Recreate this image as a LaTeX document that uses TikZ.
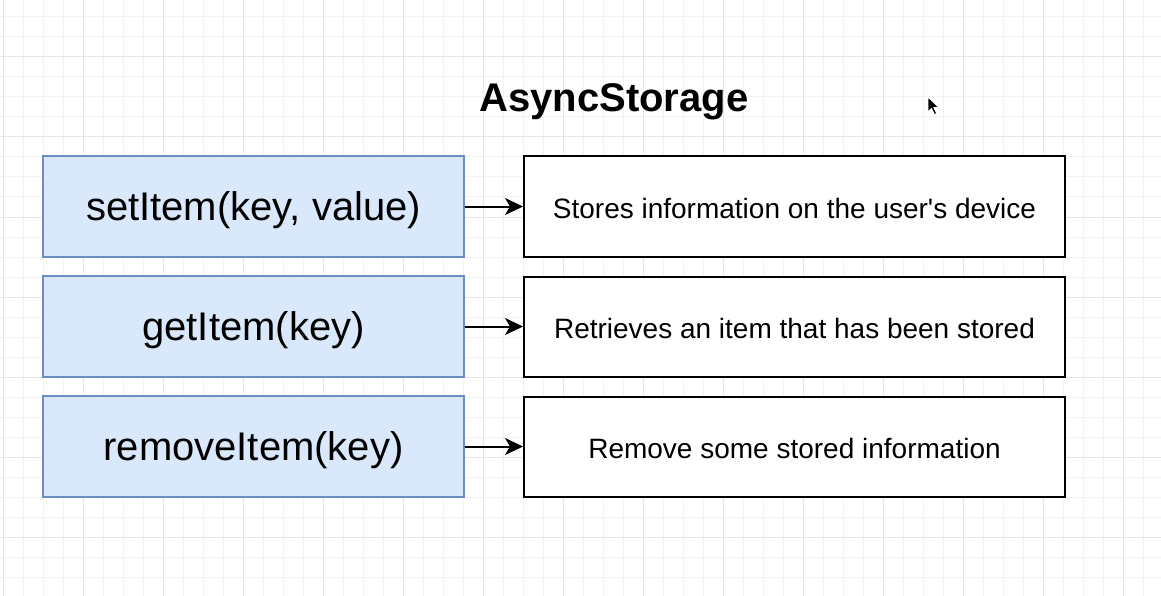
\documentclass[tikz,border=0pt]{standalone}
\usepackage{fontspec}
\setmainfont{Liberation Sans}[Ligatures=TeXOff]
\usetikzlibrary{arrows.meta}
\definecolor{gridminor}{HTML}{F2F2F2}
\definecolor{gridmajor}{HTML}{E6E6E6}
\definecolor{blfill}{HTML}{DAE8FC}
\definecolor{bldraw}{HTML}{6C8EBF}
\tikzset{
  fnbox/.style={draw=bldraw, fill=blfill, line width=1.5pt, minimum width=421pt, minimum height=101pt, inner sep=0pt,
    font=\fontsize{40}{48}\selectfont, text height=36pt, text depth=8pt},
  descbox/.style={draw=black, fill=white, line width=2pt, minimum width=541pt, minimum height=100pt, inner sep=0pt,
    font=\fontsize{28}{34}\selectfont, text height=30pt, text depth=5.6pt},
  conn/.style={line width=2pt, -{Stealth[length=18pt,width=17pt,inset=5pt]}},
  titletext/.style={font=\fontsize{40}{48}\selectfont\bfseries, anchor=base, inner sep=0pt}
}
\begin{document}
\begin{tikzpicture}[x=1pt,y=-1pt]
\useasboundingbox (0,0) rectangle (1161,596);
\fill[white] (0,0) rectangle (1161,596);
% grid
\foreach \gx in {3,23,...,1163} {\draw[gridminor, line width=1pt] (\gx,0) -- (\gx,596);}
\foreach \gy in {17,37,...,597} {\draw[gridminor, line width=1pt] (0,\gy) -- (1161,\gy);}
\foreach \gx in {3,83,...,1163} {\draw[gridmajor, line width=1pt] (\gx,0) -- (\gx,596);}
\foreach \gy in {57,137,...,597} {\draw[gridmajor, line width=1pt] (0,\gy) -- (1161,\gy);}
% title
\node[titletext] (title) at (614,112) {AsyncStorage};
% boxes
\node[fnbox] (set) at (253.5,206.5) {setItem(key, value)};
\node[fnbox] (get) at (253.5,326.5) {getItem(key)};
\node[fnbox] (rem) at (253.5,446.5) {removeItem(key)};
\node[descbox] (setd) at (794.5,206.5) {Stores information on the user's device};
\node[descbox] (getd) at (794.5,326.5) {Retrieves an item that has been stored};
\node[descbox] (remd) at (794.5,446.5) {Remove some stored information};
% connectors
\draw[conn] (set.east) -- (setd.west);
\draw[conn] (get.east) -- (getd.west);
\draw[conn] (rem.east) -- (remd.west);
% mouse pointer
\coordinate (cur) at (928,97);
\filldraw[fill=black, draw=white, line width=0.8pt, line join=round]
  (cur) -- ++(0,15) -- ++(3.5,-3.5) -- ++(3,6) -- ++(2.2,-1) -- ++(-3,-6) -- ++(5,0) -- cycle;
\end{tikzpicture}
\end{document}
